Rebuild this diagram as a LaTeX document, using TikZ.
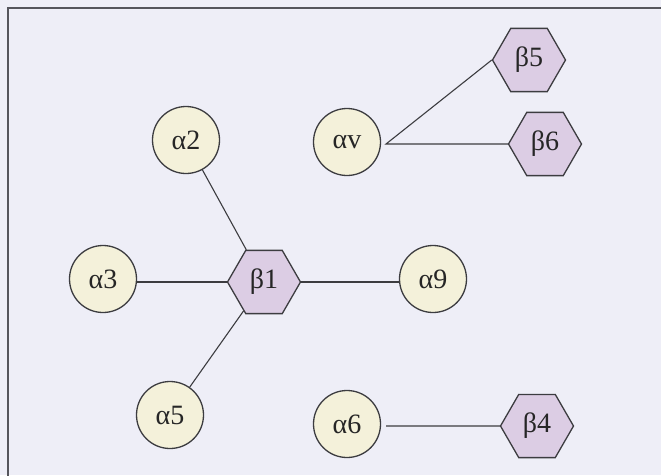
\documentclass[tikz,border=0pt]{standalone}
\usepackage{fontspec}
\setmainfont{Liberation Serif}
\usetikzlibrary{shapes.geometric}
\definecolor{bgc}{HTML}{EEEEF7}
\definecolor{alphafill}{HTML}{F4F1DA}
\definecolor{betafill}{HTML}{DCCDE4}
\definecolor{edgec}{HTML}{3C3C40}
\definecolor{framec}{HTML}{55555C}
\tikzset{
  alphanode/.style={circle, draw=edgec, line width=1.3pt, fill=alphafill,
    minimum size=67pt, inner sep=0pt, font=\fontsize{28}{30}\selectfont, text=black!85},
  betanode/.style={regular polygon, regular polygon sides=6, draw=edgec, line width=1.3pt,
    fill=betafill, minimum size=73pt, inner sep=0pt, font=\fontsize{28}{30}\selectfont, text=black!85},
  link/.style={draw=edgec, line width=1.1pt}
}
\begin{document}
\begin{tikzpicture}[x=1pt,y=-1pt]
\fill[bgc] (0,0) rectangle (661,475);
\useasboundingbox (0,0) rectangle (661,475);
\draw[framec, line width=2pt] (8,480) -- (8,8) -- (666,8);
\node[alphanode] (a2) at (186,140) {α2};
\node[alphanode] (av) at (347,142) {αv};
\node[betanode] (b5) at (529,60) {β5};
\node[betanode] (b6) at (545,144) {β6};
\node[alphanode] (a3) at (103,279) {α3};
\node[betanode] (b1) at (264,282) {β1};
\node[alphanode] (a9) at (433,279) {α9};
\node[alphanode] (a5) at (170,415) {α5};
\node[alphanode] (a6) at (347,424) {α6};
\node[betanode] (b4) at (537,426) {β4};
\coordinate (vj) at (386,144);
\coordinate (sj) at (386,426);
\draw[link] (b1) -- (a2);
\draw[link] (a3.east |- b1.west) -- (b1.west);
\draw[link] (b1) -- (a5);
\draw[link] (b1.east) -- (a9.west |- b1.east);
\draw[link] (b5.west) -- (vj) -- (b6.west);
\draw[link] (sj) -- (b4.west);
\end{tikzpicture}
\end{document}
